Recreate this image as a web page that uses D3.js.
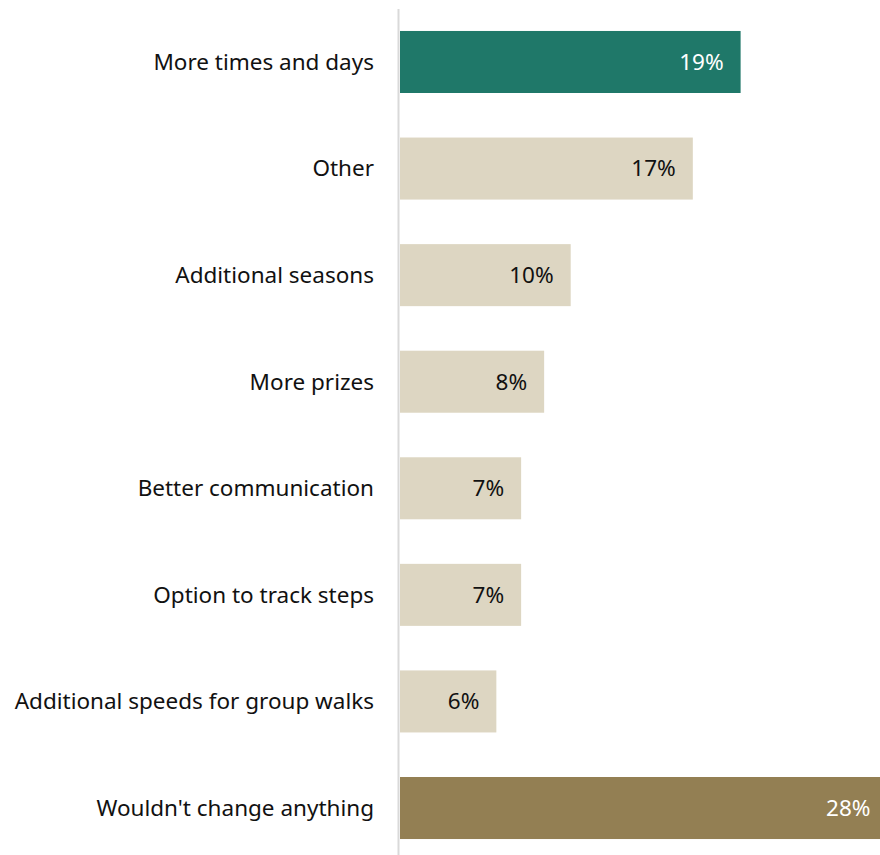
<!DOCTYPE html>
<html>
<head>
<meta charset="utf-8">
<script src="https://cdn.jsdelivr.net/npm/d3@7"></script>
<style>
  body { margin: 0; background: #fff; }
  svg { display: block; font-family: "Noto Sans", "Open Sans", sans-serif; }
</style>
</head>
<body>
<svg width="880" height="855"></svg>
<script>
// answers, top to bottom
var categories = [
    "More times and days",
    "Other",
    "Additional seasons",
    "More prizes",
    "Better communication",
    "Option to track steps",
    "Additional speeds for group walks",
    "Wouldn't change anything"
];
var values = [19.3, 16.6, 9.7, 8.2, 6.9, 6.9, 5.5, 27.6];
var labels = ["19%", "17%", "10%", "8%", "7%", "7%", "6%", "28%"];
var colors = ["#1f7869", "#ddd6c2", "#ddd6c2", "#ddd6c2", "#ddd6c2", "#ddd6c2", "#ddd6c2", "#937f53"];
var textColors = ["#fff", "#111", "#111", "#111", "#111", "#111", "#111", "#fff"];

var svg = d3.select("svg"),
    width = +svg.attr("width"),
    height = +svg.attr("height");

var left = 399;

var x = d3.scaleLinear()
    .domain([0, 30])
    .range([left, left + 531]);

var y = d3.scaleBand()
    .domain(categories)
    .range([8.7, 861.3])
    .paddingInner(0.418)
    .paddingOuter(0.209);

var rows = svg.append("g")
    .selectAll("g")
    .data(categories)
    .enter()
    .append("g");

rows.append("rect")
    .attr("x", x(0) + 1)
    .attr("y", function (d) { return y(d); })
    .attr("width", function (d, i) { return x(values[i]) - x(0) - 1; })
    .attr("height", y.bandwidth())
    .attr("fill", function (d, i) { return colors[i]; });

rows.append("text")
    .attr("x", function (d, i) { return x(values[i]) - 17; })
    .attr("y", function (d) { return y(d) + y.bandwidth() / 2; })
    .attr("dy", "0.35em")
    .attr("text-anchor", "end")
    .attr("font-size", "22.5px")
    .attr("fill", function (d, i) { return textColors[i]; })
    .text(function (d, i) { return labels[i]; });

// category labels
rows.append("text")
    .attr("x", left - 25)
    .attr("y", function (d) { return y(d) + y.bandwidth() / 2; })
    .attr("dy", "0.35em")
    .attr("text-anchor", "end")
    .attr("font-size", "22.5px")
    .attr("fill", "#111")
    .text(function (d) { return d; });

// vertical axis line
svg.append("line")
    .attr("x1", left - 0.5)
    .attr("x2", left - 0.5)
    .attr("y1", 9)
    .attr("y2", height)
    .attr("stroke", "#d9d9d9")
    .attr("stroke-width", 2);
</script>
</body>
</html>
